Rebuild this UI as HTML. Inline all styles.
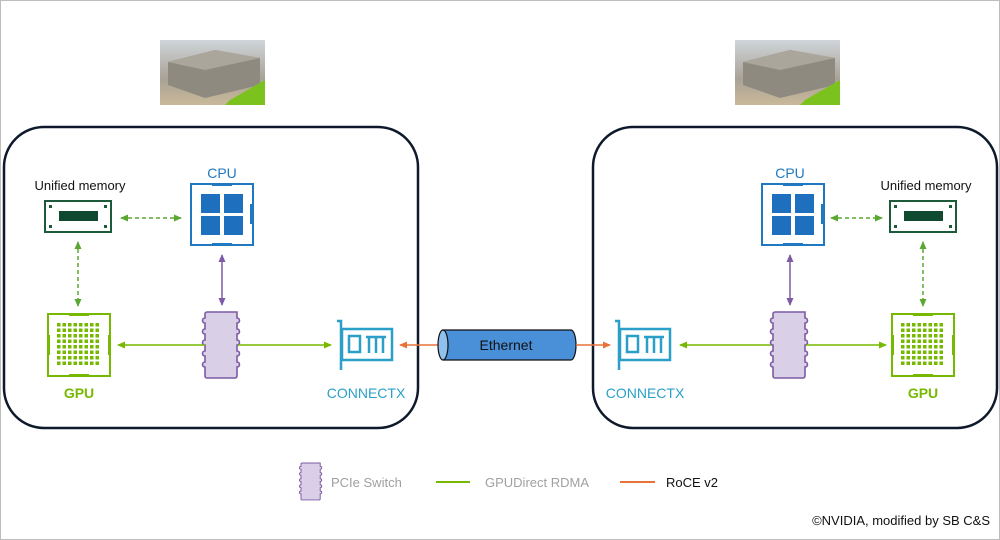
<!DOCTYPE html>
<html><head><meta charset="utf-8"><style>
html,body{margin:0;padding:0;background:#fff}
svg{display:block;font-family:"Liberation Sans","DejaVu Sans",sans-serif}
</style></head><body>
<svg width="1000" height="540" viewBox="0 0 1000 540" xmlns="http://www.w3.org/2000/svg">
<defs>
<marker id="ag" markerWidth="8" markerHeight="8" refX="7" refY="4" orient="auto-start-reverse" markerUnits="userSpaceOnUse"><path d="M0,0.5 L8,4 L0,7.5z" fill="#5aa832"/></marker>
<marker id="al" markerWidth="8" markerHeight="8" refX="7" refY="4" orient="auto-start-reverse" markerUnits="userSpaceOnUse"><path d="M0,0.5 L8,4 L0,7.5z" fill="#76b900"/></marker>
<marker id="ap" markerWidth="8" markerHeight="8" refX="7" refY="4" orient="auto-start-reverse" markerUnits="userSpaceOnUse"><path d="M0,0.5 L8,4 L0,7.5z" fill="#7d5aa6"/></marker>
<marker id="ao" markerWidth="8" markerHeight="8" refX="7" refY="4" orient="auto-start-reverse" markerUnits="userSpaceOnUse"><path d="M0,0.5 L8,4 L0,7.5z" fill="#e8733a"/></marker>
<linearGradient id="ph" x1="0" y1="0" x2="0" y2="1"><stop offset="0" stop-color="#cfd5da"/><stop offset="0.6" stop-color="#a9a295"/><stop offset="1" stop-color="#c9b99a"/></linearGradient>
<g id="mem"><rect x="0" y="0" width="66" height="31" fill="#fff" stroke="#1d5a3a" stroke-width="2"/><rect x="14" y="10" width="39" height="10" fill="#0f4a30"/><rect x="4" y="4" width="3" height="3" fill="#1d5a3a"/><rect x="59" y="4" width="3" height="3" fill="#1d5a3a"/><rect x="4" y="24" width="3" height="3" fill="#1d5a3a"/><rect x="59" y="24" width="3" height="3" fill="#1d5a3a"/></g>
<g id="cpu"><rect x="0" y="0" width="62" height="61" fill="#fff" stroke="#1f78c0" stroke-width="2"/><rect x="21" y="-1" width="20" height="3" fill="#1f78c0"/><rect x="21" y="59" width="20" height="3" fill="#1f78c0"/><rect x="59" y="20" width="3" height="20" fill="#1f78c0"/><rect x="10" y="10" width="19" height="19" fill="#1f6fbf"/><rect x="33" y="10" width="19" height="19" fill="#1f6fbf"/><rect x="10" y="32" width="19" height="19" fill="#1f6fbf"/><rect x="33" y="32" width="19" height="19" fill="#1f6fbf"/></g>
<g id="gpu"><rect x="0" y="0" width="62" height="62" fill="#fff" stroke="#76b900" stroke-width="2"/><rect x="21" y="-1" width="20" height="3" fill="#76b900"/><rect x="21" y="60" width="20" height="3" fill="#76b900"/><rect x="-1" y="21" width="3" height="20" fill="#76b900"/><rect x="60" y="21" width="3" height="20" fill="#76b900"/>
<g fill="#76b900"><path d="M9,9h44v44h-44z" fill="none"/></g>
<pattern id="gp" x="9" y="9" width="5.5" height="5.5" patternUnits="userSpaceOnUse"><rect width="3.5" height="3.5" fill="#76b900"/></pattern>
<rect x="9" y="9" width="44" height="44" fill="url(#gp)"/></g>
<g id="sw"><path d="M2,0 H32 V6 a2,2 0 0 1 0,5 V17 a2,2 0 0 1 0,5 V28 a2,2 0 0 1 0,5 V39 a2,2 0 0 1 0,5 V50 a2,2 0 0 1 0,5 V64 a2,2 0 0 1 -2,2 H2 a2,2 0 0 1 -2,-2 V55 a2,2 0 0 1 0,-5 V44 a2,2 0 0 1 0,-5 V33 a2,2 0 0 1 0,-5 V22 a2,2 0 0 1 0,-5 V11 a2,2 0 0 1 0,-5 V2 a2,2 0 0 1 2,-2z" fill="#d9cfe6" stroke="#7d5aa6" stroke-width="1.6"/></g>
<g id="cx" fill="none" stroke="#2aa0c8" stroke-width="2.5"><path d="M0,1 H4 V50"/><rect x="5" y="9" width="50" height="31"/><rect x="12" y="16" width="11" height="16"/><path d="M29,17 H49 M32,18 V33 M39,18 V33 M46,18 V33"/></g>
</defs>
<rect x="0.5" y="0.5" width="999" height="539" fill="#fff" stroke="#bdbdbd"/>
<!-- photos -->
<rect x="160" y="40" width="105" height="65" fill="url(#ph)"/><path d="M168,62 L215,50 L260,58 L260,85 L205,98 L168,85z" fill="#8f8a80"/><path d="M168,62 L215,50 L260,58 L205,70z" fill="#aaa69c"/><path d="M230,100 L265,80 L265,105 L225,105z" fill="#7cc21e"/>
<rect x="735" y="40" width="105" height="65" fill="url(#ph)"/><path d="M743,62 L790,50 L835,58 L835,85 L780,98 L743,85z" fill="#8f8a80"/><path d="M743,62 L790,50 L835,58 L780,70z" fill="#aaa69c"/><path d="M805,100 L840,80 L840,105 L800,105z" fill="#7cc21e"/>
<!-- boxes -->
<rect x="4" y="127" width="414" height="301" rx="40" fill="#fff" stroke="#0e1a2b" stroke-width="2.5"/>
<rect x="593" y="127" width="404" height="301" rx="40" fill="#fff" stroke="#0e1a2b" stroke-width="2.5"/>
<!-- left -->
<text x="80" y="190" font-size="13" text-anchor="middle" fill="#111">Unified memory</text>
<use href="#mem" x="45" y="201"/>
<text x="222" y="178" font-size="14" text-anchor="middle" fill="#1f78c0">CPU</text>
<use href="#cpu" x="191" y="184"/>
<line x1="121" y1="218" x2="181" y2="218" stroke="#5aa832" stroke-width="1.5" stroke-dasharray="4,3" marker-start="url(#ag)" marker-end="url(#ag)"/>
<line x1="78" y1="242" x2="78" y2="306" stroke="#5aa832" stroke-width="1.5" stroke-dasharray="4,3" marker-start="url(#ag)" marker-end="url(#ag)"/>
<use href="#gpu" x="48" y="314"/>
<text x="79" y="398" font-size="14" text-anchor="middle" fill="#76b900" font-weight="bold">GPU</text>
<line x1="222" y1="255" x2="222" y2="305" stroke="#7d5aa6" stroke-width="1.5" marker-start="url(#ap)" marker-end="url(#ap)"/>
<use href="#sw" x="205" y="312"/>
<line x1="118" y1="345" x2="205" y2="345" stroke="#76b900" stroke-width="1.5" marker-start="url(#al)"/>
<line x1="238" y1="345" x2="331" y2="345" stroke="#76b900" stroke-width="1.5" marker-end="url(#al)"/>
<use href="#cx" x="337" y="320"/>
<text x="366" y="398" font-size="14" text-anchor="middle" fill="#2aa0c8">CONNECTX</text>
<line x1="438" y1="345" x2="400" y2="345" stroke="#e8733a" stroke-width="1.5" marker-end="url(#ao)"/>
<!-- ethernet -->
<path d="M443,330 H571 A5,15 0 0 1 571,360 H443z" fill="#4a90d9" stroke="#111" stroke-width="1.2"/>
<ellipse cx="443" cy="345" rx="5" ry="15" fill="#8fc0ee" stroke="#111" stroke-width="1.2"/>
<text x="506" y="350" font-size="14" text-anchor="middle" fill="#111">Ethernet</text>
<line x1="576" y1="345" x2="610" y2="345" stroke="#e8733a" stroke-width="1.5" marker-end="url(#ao)"/>
<!-- right -->
<use href="#cx" x="615" y="320"/>
<text x="645" y="398" font-size="14" text-anchor="middle" fill="#2aa0c8">CONNECTX</text>
<line x1="680" y1="345" x2="773" y2="345" stroke="#76b900" stroke-width="1.5" marker-start="url(#al)"/>
<use href="#sw" x="773" y="312"/>
<line x1="806" y1="345" x2="886" y2="345" stroke="#76b900" stroke-width="1.5" marker-end="url(#al)"/>
<use href="#gpu" x="892" y="314"/>
<text x="923" y="398" font-size="14" text-anchor="middle" fill="#76b900" font-weight="bold">GPU</text>
<line x1="790" y1="255" x2="790" y2="305" stroke="#7d5aa6" stroke-width="1.5" marker-start="url(#ap)" marker-end="url(#ap)"/>
<text x="790" y="178" font-size="14" text-anchor="middle" fill="#1f78c0">CPU</text>
<use href="#cpu" x="762" y="184"/>
<line x1="831" y1="218" x2="882" y2="218" stroke="#5aa832" stroke-width="1.5" stroke-dasharray="4,3" marker-start="url(#ag)" marker-end="url(#ag)"/>
<text x="926" y="190" font-size="13" text-anchor="middle" fill="#111">Unified memory</text>
<use href="#mem" x="890" y="201"/>
<line x1="923" y1="242" x2="923" y2="306" stroke="#5aa832" stroke-width="1.5" stroke-dasharray="4,3" marker-start="url(#ag)" marker-end="url(#ag)"/>
<!-- legend -->
<g transform="translate(301,463) scale(0.6,0.56)"><use href="#sw"/></g>
<text x="331" y="487" font-size="13" fill="#a0a0a0">PCIe Switch</text>
<line x1="436" y1="482" x2="470" y2="482" stroke="#76b900" stroke-width="2"/>
<text x="485" y="487" font-size="13" fill="#a0a0a0">GPUDirect RDMA</text>
<line x1="620" y1="482" x2="655" y2="482" stroke="#e8733a" stroke-width="2"/>
<text x="666" y="487" font-size="13" fill="#111">RoCE v2</text>
<text x="990" y="525" font-size="13" text-anchor="end" fill="#111">©NVIDIA, modified by SB C&amp;S</text>
</svg>
</body></html>
